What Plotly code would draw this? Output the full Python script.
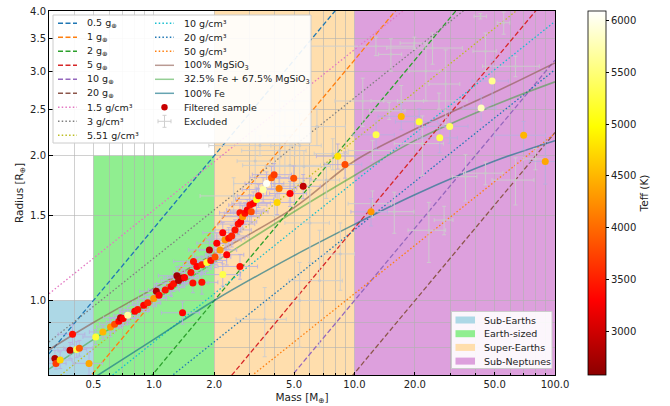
import math
import plotly.graph_objects as go

# ---------------- data ----------------
GRAV_LABELS = ["0.5 g<sub>⊕</sub>", "1 g<sub>⊕</sub>", "2 g<sub>⊕</sub>",
               "5 g<sub>⊕</sub>", "10 g<sub>⊕</sub>", "20 g<sub>⊕</sub>"]
GRAV_COLORS = ["#1f77b4", "#ff7f0e", "#2ca02c", "#d62728", "#9467bd", "#8c564b"]
LINE_MASS = [0.3, 100.0]
GRAV_R_LO = [0.775, 0.548, 0.387, 0.245, 0.173, 0.122]
GRAV_R_HI = [14.14, 10.0, 7.071, 4.472, 3.162, 2.236]

DENS_LABELS = ["1.5 g/cm³", "3 g/cm³", "5.51 g/cm³", "10 g/cm³", "20 g/cm³", "50 g/cm³"]
DENS_COLORS = ["#e377c2", "#7f7f7f", "#bcbd22", "#17becf", "#1f77b4", "#ff7f0e"]
DENS_R_LO = [1.033, 0.820, 0.669, 0.549, 0.436, 0.321]
DENS_R_HI = [7.16, 5.685, 4.642, 3.805, 3.020, 2.226]

COMP_MASS = [0.3, 0.5, 1, 2, 5, 10, 20, 50, 100]
R_MGSIO3 = [0.79, 0.90, 1.06, 1.25, 1.56, 1.95, 2.27, 2.71, 3.12]
R_EARTHLIKE = [0.72, 0.83, 1.0, 1.2, 1.53, 1.82, 2.15, 2.55, 2.85]
R_FE = [0.60, 0.69, 0.83, 1.0, 1.24, 1.44, 1.66, 1.95, 2.15]
COMP_LABELS = ["100% MgSiO<sub>3</sub>", "32.5% Fe + 67.5% MgSiO<sub>3</sub>", "100% Fe"]
COMP_COLORS = ["rgba(140,86,75,0.6)", "rgba(44,160,44,0.5)", "rgba(20,115,135,0.65)"]

# filtered sample
F_MASS = [0.321, 0.325, 0.341, 0.382, 0.393, 0.412, 0.425, 0.475, 0.513, 0.557,
          0.608, 0.637, 0.669, 0.682, 0.703, 0.741, 0.803, 0.831, 0.890, 0.932,
          0.998, 1.029, 1.061, 1.14, 1.217, 1.254, 1.303, 1.328, 1.380, 1.422,
          1.390, 1.530, 1.565, 1.576, 1.638, 1.735, 1.735, 1.837, 1.892, 1.922,
          2.019, 2.059, 2.138, 2.205, 2.205, 2.264, 2.308, 2.362, 2.444, 2.538,
          2.635, 2.687, 2.687, 2.709, 2.771, 2.845, 2.921, 3.012, 3.058, 3.128,
          3.252, 3.327, 3.507, 3.646, 3.861, 3.977, 4.116, 4.211, 4.775, 4.981,
          5.551, 8.262, 8.973, 12.1, 12.82, 17.12, 21.02, 26.63, 29.85, 42.83,
          48.58, 69.79, 89.41]
F_RAD = [0.758, 0.740, 0.752, 0.788, 0.851, 0.791, 0.796, 0.740, 0.840, 0.860,
         0.881, 0.893, 0.905, 0.921, 0.917, 0.932, 0.950, 0.958, 0.978, 0.989,
         1.010, 1.045, 1.025, 1.052, 1.070, 1.084, 1.126, 1.100, 1.114, 1.117,
         0.943, 1.144, 1.088, 1.206, 1.177, 1.091, 1.187, 1.200, 1.274, 1.211,
         1.231, 1.316, 1.274, 1.384, 1.132, 1.337, 1.245, 1.348, 1.362, 1.402,
         1.442, 1.522, 1.177, 1.458, 1.494, 1.518, 1.542, 1.579, 1.529, 1.592,
         1.623, 1.651, 1.701, 1.751, 1.801, 1.827, 1.599, 1.710, 1.669, 1.795,
         1.728, 1.996, 1.917, 1.529, 2.211, 2.415, 2.354, 2.179, 2.302, 2.513,
         2.861, 2.207, 1.946]
F_TEFF = [2800, 3700, 4700, 2900, 3400, 5300, 3900, 4400, 5200, 4500,
          4300, 3800, 3300, 2900, 3300, 5700, 3300, 3400, 3300, 3500,
          4300, 2800, 3300, 3400, 3300, 3400, 2700, 2800, 2800, 3300,
          3300, 3400, 3400, 3400, 3300, 3400, 3500, 5200, 2900, 3400,
          3800, 3300, 4300, 3300, 5300, 4300, 3300, 3400, 3500, 3400,
          3400, 3400, 3400, 3300, 4300, 3400, 3300, 3400, 3800, 3300,
          5100, 3400, 5700, 6050, 3900, 3700, 4700, 4100, 3300, 3800,
          2900, 4800, 3800, 4300, 5300, 4500, 5200, 5300, 5400, 5800,
          5600, 4500, 4400]
F_MERR = [0.03, 0.04, 0.05, 0.05, 0.06, 0.05, 0.07, 0.08, 0.07, 0.08,
          0.09, 0.10, 0.09, 0.12, 0.10, 0.11, 0.13, 0.12, 0.14, 0.15,
          0.16, 0.18, 0.17, 0.20, 0.21, 0.22, 0.25, 0.24, 0.26, 0.25,
          0.30, 0.28, 0.30, 0.32, 0.30, 0.35, 0.33, 0.36, 0.40, 0.38,
          0.40, 0.42, 0.45, 0.45, 0.50, 0.46, 0.50, 0.48, 0.50, 0.52,
          0.55, 0.56, 0.60, 0.55, 0.58, 0.60, 0.62, 0.65, 0.65, 0.68,
          0.70, 0.72, 0.75, 0.80, 0.85, 0.88, 0.90, 0.95, 1.0, 1.1,
          1.2, 1.8, 1.9, 2.5, 3.0, 4.0, 5.0, 6.0, 7.0, 8.0,
          10.0, 20.0, 15.0]
F_RERR = [0.03, 0.02, 0.03, 0.03, 0.04, 0.03, 0.03, 0.04, 0.03, 0.03,
          0.04, 0.03, 0.03, 0.04, 0.03, 0.04, 0.03, 0.04, 0.03, 0.04,
          0.04, 0.04, 0.04, 0.04, 0.05, 0.04, 0.05, 0.04, 0.05, 0.04,
          0.05, 0.05, 0.05, 0.05, 0.05, 0.06, 0.05, 0.05, 0.06, 0.05,
          0.06, 0.06, 0.06, 0.07, 0.06, 0.06, 0.06, 0.07, 0.07, 0.07,
          0.07, 0.08, 0.07, 0.07, 0.08, 0.08, 0.08, 0.08, 0.08, 0.09,
          0.09, 0.09, 0.10, 0.10, 0.10, 0.10, 0.09, 0.10, 0.10, 0.11,
          0.10, 0.12, 0.12, 0.10, 0.15, 0.15, 0.15, 0.15, 0.18, 0.15,
          0.30, 0.15, 0.20]

# excluded sample
E_MASS = [42.5, 55.5, 24.5, 12.8, 19.9, 15.2, 22.7, 28.5, 45.0, 63.5,
          11.0, 26.4, 17.1, 14.9, 12.3, 21.8, 35.8, 45.0, 63.5, 79.8,
          28.0, 12.3, 15.8, 23.5,
          4.77, 4.24, 5.33, 3.38, 4.24, 5.04, 7.8, 7.24, 5.33, 3.57,
          6.7, 2.5, 6.0, 8.5, 4.0, 4.5, 5.6, 3.2, 6.5]
E_RAD = [3.90, 3.78, 3.35, 3.38, 3.43, 3.25, 3.00, 2.82, 3.30, 3.07,
         2.60, 2.60, 2.60, 2.48, 2.05, 2.12, 1.81, 1.84, 1.78, 1.97,
         1.47, 1.59, 1.53, 1.40,
         1.91, 2.05, 2.10, 2.10, 2.48, 2.60, 2.02, 1.78, 1.00, 0.914,
         1.10, 1.65, 1.45, 1.25, 1.75, 2.20, 1.90, 1.95, 2.30]
E_MERR = [3, 4, 10, 7, 3, 2, 4, 5, 6, 20,
          3, 10, 5, 3, 3, 6, 5, 10, 15, 10,
          3, 3, 4, 5,
          2, 1.5, 1.5, 1.5, 1.0, 1.0, 1.5, 1.2, 1.5, 1.0,
          2.0, 0.8, 1.5, 1.5, 1.5, 0.8, 2.0, 0.6, 2.5]
E_RERR = [0.05, 0.2, 0.25, 0.15, 0.1, 0.25, 0.4, 0.5, 0.3, 0.15,
          0.3, 0.1, 0.2, 0.1, 0.1, 0.3, 0.2, 0.1, 0.2, 0.1,
          0.1, 0.1, 0.15, 0.2,
          0.3, 0.3, 0.35, 0.1, 0.5, 0.6, 0.15, 0.15, 0.2, 0.15,
          0.3, 0.15, 0.25, 0.2, 0.25, 0.4, 0.15, 0.3, 0.2]

X_TICKS = [0.5, 1, 2, 5, 10, 20, 50, 100]
X_TICKTEXT = ["0.5", "1.0", "2.0", "5.0", "10.0", "20.0", "50.0", "100.0"]
X_MINOR = [0.3, 0.4, 0.6, 0.7, 0.8, 0.9, 3, 4, 6, 7, 8, 9, 30, 40, 60, 70, 80, 90]
Y_TICKS = [1.0, 1.5, 2.0, 2.5, 3.0, 3.5, 4.0]
Y_TICKTEXT = ["1.0", "1.5", "2.0", "2.5", "3.0", "3.5", "4.0"]
Y_MINOR = [0.7, 0.8, 0.9]
CB_TICKS = [3000, 3500, 4000, 4500, 5000, 5500, 6000]

REGION_NAMES = ["Sub-Earths", "Earth-sized", "Super-Earths", "Sub-Neptunes"]
REGION_COLORS = ["#add8e6", "#90ee90", "#ffdead", "#dda0dd"]
REGION_X0 = [0.3, 0.5, 2.0, 10.0]
REGION_X1 = [0.5, 2.0, 10.0, 100.0]
REGION_Y1 = [1.0, 2.0, 4.0, 4.0]

FONT = "DejaVu Sans"
GRID = "rgba(176,176,176,0.6)"

# ---------------- figure ----------------
fig = go.Figure()

for i in range(len(GRAV_LABELS)):
    fig.add_trace(go.Scatter(x=LINE_MASS, y=[GRAV_R_LO[i], GRAV_R_HI[i]], mode="lines",
                             line=dict(color=GRAV_COLORS[i], width=1.3, dash="5px,2.5px"),
                             showlegend=False, hoverinfo="skip"))
for i in range(len(DENS_LABELS)):
    fig.add_trace(go.Scatter(x=LINE_MASS, y=[DENS_R_LO[i], DENS_R_HI[i]], mode="lines",
                             line=dict(color=DENS_COLORS[i], width=1.3, dash="1.5px,2.2px"),
                             showlegend=False, hoverinfo="skip"))
for rr, col in zip([R_MGSIO3, R_EARTHLIKE, R_FE], COMP_COLORS):
    fig.add_trace(go.Scatter(x=COMP_MASS, y=rr, mode="lines", line=dict(color=col, width=1.6, shape="spline"),
                             showlegend=False, hoverinfo="skip"))

fig.add_trace(go.Scatter(
    x=E_MASS, y=E_RAD, mode="markers",
    marker=dict(size=3, color="rgba(200,200,200,0.9)"),
    error_x=dict(type="data", array=E_MERR, color="rgba(205,205,205,0.9)", thickness=1, width=2),
    error_y=dict(type="data", array=E_RERR, color="rgba(205,205,205,0.9)", thickness=1, width=2),
    showlegend=False, hoverinfo="skip"))

fig.add_trace(go.Scatter(
    x=F_MASS, y=F_RAD, mode="markers",
    marker=dict(size=6, color="rgba(0,0,0,0)"),
    error_x=dict(type="data", array=F_MERR, color="rgba(185,175,225,0.85)", thickness=1, width=2),
    error_y=dict(type="data", array=F_RERR, color="rgba(185,175,225,0.85)", thickness=1, width=2),
    showlegend=False, hoverinfo="skip"))

HOT = [[0.0, "rgb(140,0,0)"], [0.206, "rgb(255,0,0)"], [0.683, "rgb(255,255,0)"], [1.0, "rgb(255,255,255)"]]

fig.add_trace(go.Scatter(
    x=F_MASS, y=F_RAD, mode="markers",
    marker=dict(size=7, color=F_TEFF, colorscale=HOT, cmin=2580, cmax=6090,
                line=dict(width=0),
                colorbar=dict(
                    x=(588 - 49) / 506, xanchor="left", y=0.5, yanchor="middle",
                    len=364, lenmode="pixels", thickness=18, thicknessmode="pixels",
                    xpad=0, ypad=0,
                    outlinecolor="black", outlinewidth=0.8,
                    tickvals=CB_TICKS, ticks="outside", ticklen=3, tickcolor="black",
                    tickfont=dict(family=FONT, size=10, color="#222"),
                    title=dict(text="Teff (K)", side="right", font=dict(family=FONT, size=10.5, color="#222")),
                )),
    showlegend=False, hoverinfo="skip"))

shapes = []
for name, col, x0, x1, y1 in zip(REGION_NAMES, REGION_COLORS, REGION_X0, REGION_X1, REGION_Y1):
    shapes.append(dict(type="rect", xref="x", yref="y", x0=x0, x1=x1, y0=0.7, y1=y1,
                       fillcolor=col, line=dict(width=0), layer="below"))

# ---- manual legends (layout positions in pixels -> paper) ----
L, T, W, H = 49, 11, 506, 364
def fx(px):
    return (px - L) / W
def fy(py):
    return (T + H - py) / H

annotations = []
shapes.append(dict(type="rect", xref="paper", yref="paper", x0=fx(53), x1=fx(311), y0=fy(143), y1=fy(15),
                   fillcolor="rgba(255,255,255,0.9)", line=dict(color="#cccccc", width=1), layer="above"))
col1 = [(GRAV_LABELS[i], GRAV_COLORS[i], "5px,2.5px") for i in range(6)] + \
       [(DENS_LABELS[i], DENS_COLORS[i], "1.5px,2.2px") for i in range(3)]
col2 = [(DENS_LABELS[i], DENS_COLORS[i], "1.5px,2.2px") for i in range(3, 6)] + \
       [(COMP_LABELS[i], COMP_COLORS[i], "solid") for i in range(3)]
ROW0, DROW = 23.3, 14.0
for col, (lx0, tx) in zip([col1, col2], [(58, 85), (155, 181.5)]):
    for r, (lab, c, d) in enumerate(col):
        yy = ROW0 + DROW * r
        shapes.append(dict(type="line", xref="paper", yref="paper", x0=fx(lx0), x1=fx(lx0 + 19),
                           y0=fy(yy), y1=fy(yy), line=dict(color=c, width=1.5, dash=d), layer="above"))
        annotations.append(dict(xref="paper", yref="paper", x=fx(tx), y=fy(yy), text=lab, showarrow=False,
                                xanchor="left", yanchor="middle", font=dict(family=FONT, size=9.5, color="#222")))
# filtered sample
yy = ROW0 + DROW * 6
shapes.append(dict(type="circle", xref="paper", yref="paper", x0=fx(161.3), x1=fx(167.7), y0=fy(yy + 3.2), y1=fy(yy - 3.2),
                   fillcolor="#c80000", line=dict(width=0), layer="above"))
annotations.append(dict(xref="paper", yref="paper", x=fx(181.5), y=fy(yy), text="Filtered sample", showarrow=False,
                        xanchor="left", yanchor="middle", font=dict(family=FONT, size=9.5, color="#222")))
yy = ROW0 + DROW * 7
gc = "#cfcfcf"
for (a, b, c_, d_) in [(158, yy, 171, yy), (164.5, yy - 6, 164.5, yy + 6), (162.5, yy - 6, 166.5, yy - 6),
                       (162.5, yy + 6, 166.5, yy + 6), (158, yy - 2, 158, yy + 2), (171, yy - 2, 171, yy + 2)]:
    shapes.append(dict(type="line", xref="paper", yref="paper", x0=fx(a), y0=fy(b), x1=fx(c_), y1=fy(d_),
                       line=dict(color=gc, width=1), layer="above"))
annotations.append(dict(xref="paper", yref="paper", x=fx(181.5), y=fy(yy), text="Excluded", showarrow=False,
                        xanchor="left", yanchor="middle", font=dict(family=FONT, size=9.5, color="#222")))

# region legend
shapes.append(dict(type="rect", xref="paper", yref="paper", x0=fx(451.5), x1=fx(552), y0=fy(368.5), y1=fy(311.5),
                   fillcolor="rgba(255,255,255,0.9)", line=dict(color="#cccccc", width=1), layer="above"))
for r, (name, col) in enumerate(zip(REGION_NAMES, REGION_COLORS)):
    yy = 320 + 13.7 * r
    shapes.append(dict(type="rect", xref="paper", yref="paper", x0=fx(455.5), x1=fx(475), y0=fy(yy + 3.5), y1=fy(yy - 3.5),
                       fillcolor=col, line=dict(width=0), layer="above"))
    annotations.append(dict(xref="paper", yref="paper", x=fx(481.5), y=fy(yy), text=name, showarrow=False,
                            xanchor="left", yanchor="middle", font=dict(family=FONT, size=9.5, color="#222")))

fig.update_layout(
    width=670, height=406,
    margin=dict(l=L, r=670 - L - W, t=T, b=406 - T - H, autoexpand=False),
    paper_bgcolor="white", plot_bgcolor="white",
    font=dict(family=FONT, size=10, color="#222"),
    showlegend=False,
    shapes=shapes, annotations=annotations,
    xaxis=dict(type="log", range=[math.log10(0.3), math.log10(100)], automargin=False,
               tickvals=X_TICKS, ticktext=X_TICKTEXT, ticks="inside", ticklen=3.5, tickcolor="black",
               showgrid=True, gridcolor=GRID, gridwidth=0.8,
               minor=dict(tickvals=X_MINOR, showgrid=True, gridcolor=GRID, gridwidth=0.8, ticks="inside",
                          ticklen=2, tickcolor="black"),
               showline=True, linecolor="black", linewidth=1, mirror=True, zeroline=False,
               tickfont=dict(family=FONT, size=10, color="#222"),
               title=dict(text="Mass [M<sub>⊕</sub>]", standoff=4, font=dict(family=FONT, size=10.5, color="#222"))),
    yaxis=dict(type="log", range=[math.log10(0.7), math.log10(4.0)], automargin=False,
               tickvals=Y_TICKS, ticktext=Y_TICKTEXT, ticks="inside", ticklen=3.5, tickcolor="black",
               showgrid=True, gridcolor=GRID, gridwidth=0.8,
               minor=dict(tickvals=Y_MINOR, showgrid=True, gridcolor=GRID, gridwidth=0.8, ticks="inside",
                          ticklen=2, tickcolor="black"),
               showline=True, linecolor="black", linewidth=1, mirror=True, zeroline=False,
               tickfont=dict(family=FONT, size=10, color="#222"),
               title=dict(text="Radius [R<sub>⊕</sub>]", standoff=4, font=dict(family=FONT, size=10.5, color="#222"))),
)

fig.write_html("out.html", config={"displayModeBar": False},
               post_script="document.body.style.margin='0';")
